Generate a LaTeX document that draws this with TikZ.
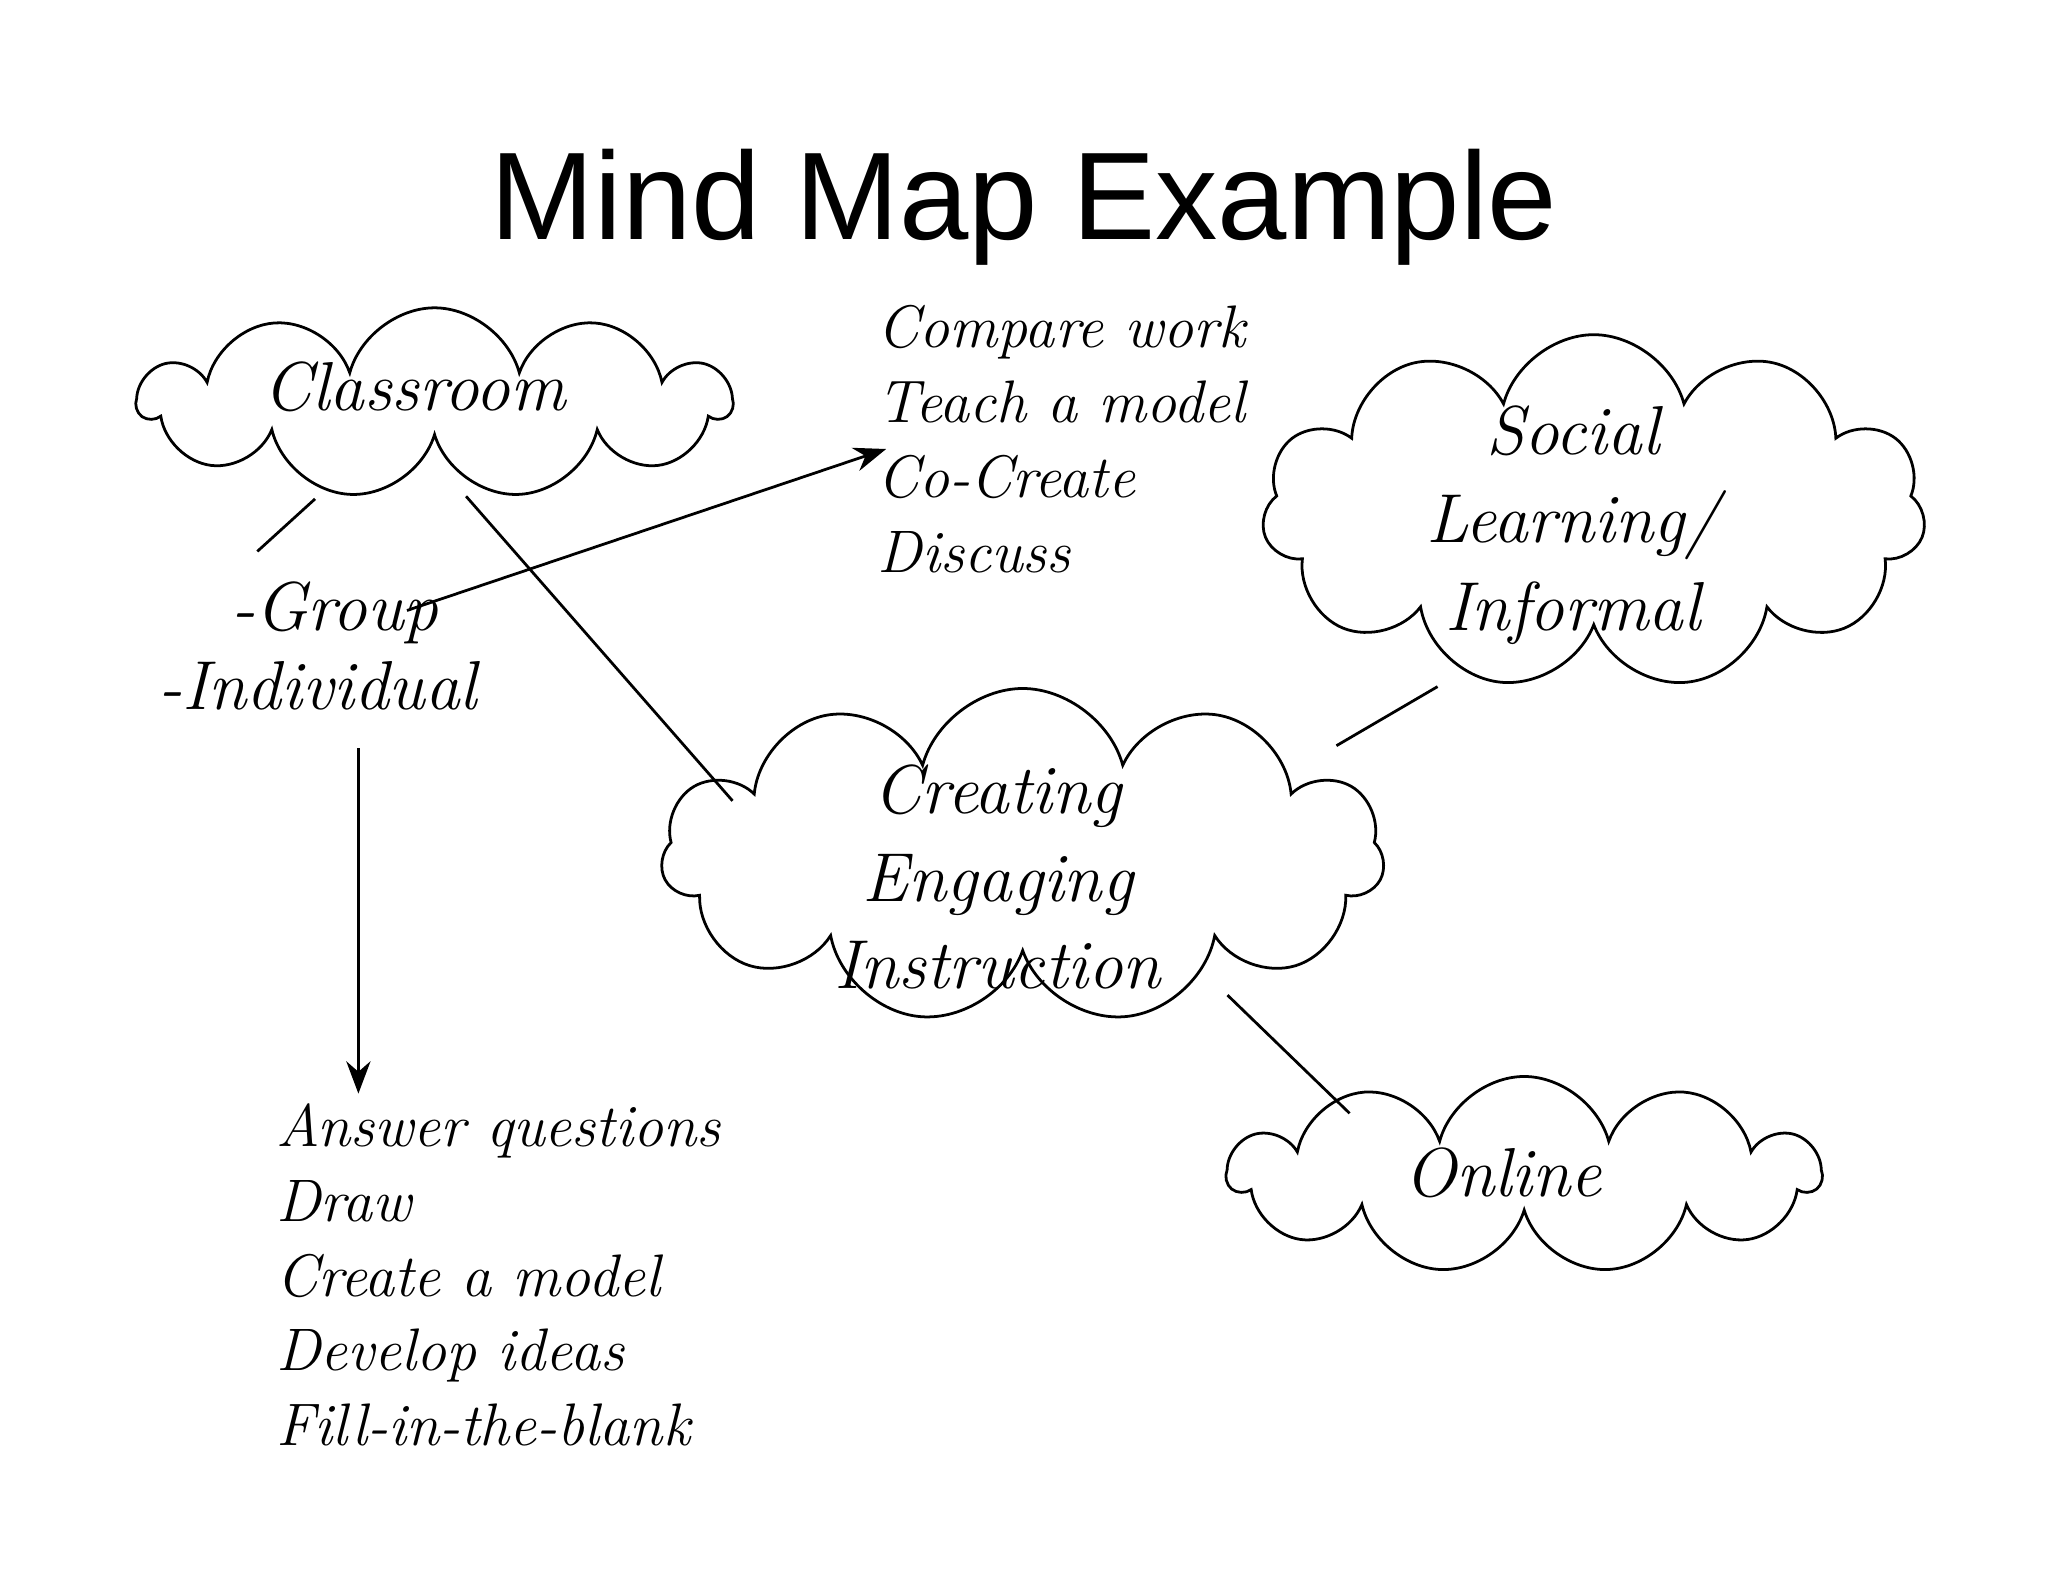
\documentclass[tikz,border=0pt]{standalone}
\usepackage{fontspec}
\setmainfont{Latin Modern Roman}
\newfontfamily\titlefont{Liberation Sans}
\usetikzlibrary{shapes.symbols,arrows.meta}
\begin{document}
\begin{tikzpicture}[x=0.01cm,y=-0.01cm,
  cl/.style={cloud,cloud puffs=11,cloud ignores aspect,draw,line width=0.6pt,inner sep=0pt},
  ct/.style={align=center,font=\itshape\fontsize{15}{19}\selectfont,inner sep=0pt},
  txt/.style={font=\itshape\fontsize{13}{16.2}\selectfont,align=left,anchor=north west,inner sep=0pt},
  ln/.style={line width=0.6pt},
  ar/.style={ln,-{Stealth[length=7pt]}}]
\useasboundingbox (0,0) rectangle (1560,1205);
\node[font=\titlefont\fontsize{27}{32}\selectfont] (title) at (780,158) {Mind Map Example};
\node[cl,minimum width=4.5cm,minimum height=1.45cm] (class) at (331,307) {};
\node[ct] (classT) at (316,295) {Classroom};
\node[cl,minimum width=5.05cm,minimum height=2.7cm] (social) at (1214,390) {};
\node[ct] (socialT) at (1198,400) {Social\\Learning/\\Informal};
\node[cl,minimum width=5.5cm,minimum height=2.55cm] (create) at (779,652) {};
\node[ct] (createT) at (760,668) {Creating\\Engaging\\Instruction};
\node[cl,minimum width=4.5cm,minimum height=1.5cm] (online) at (1161,895) {};
\node[ct] (onlineT) at (1145,893) {Online};
\node[font=\itshape\fontsize{15}{17}\selectfont,align=left,inner sep=0pt] (grp) at (242,492) {\ \ \ -Group\\-Individual};
\node[txt] (list1) at (668,232) {Compare work\\Teach a model\\Co-Create\\Discuss};
\node[txt] (list2) at (210,840) {Answer questions\\Draw\\Create a model\\Develop ideas\\Fill-in-the-blank};
\coordinate (a1) at (240,380); \coordinate (a2) at (196,420);
\coordinate (b1) at (355,378); \coordinate (b2) at (558,610);
\coordinate (c1) at (310,465); \coordinate (c2) at (675,342);
\coordinate (d1) at (1095,523); \coordinate (d2) at (1018,568);
\coordinate (e1) at (935,758); \coordinate (e2) at (1028,848);
\coordinate (f1) at (273,570); \coordinate (f2) at (273,833);
\draw[ln] (a1) -- (a2);
\draw[ln] (b1) -- (b2);
\draw[ar] (c1) -- (c2);
\draw[ln] (d1) -- (d2);
\draw[ln] (e1) -- (e2);
\draw[ar] (f1) -- (f2);
\end{tikzpicture}
\end{document}
